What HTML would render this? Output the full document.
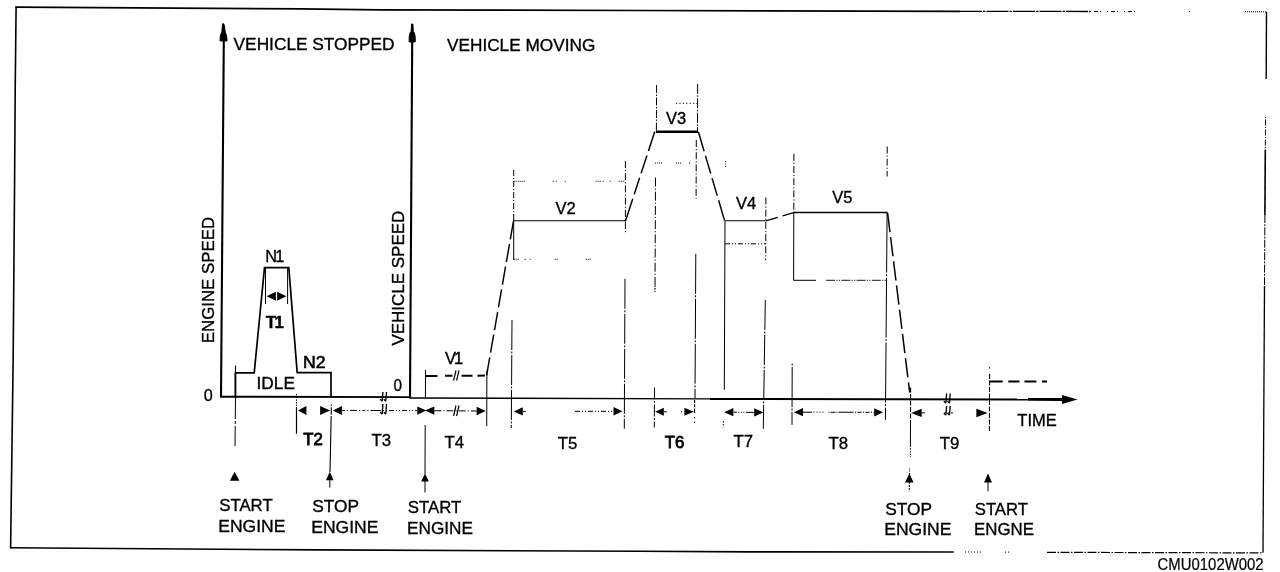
<!DOCTYPE html>
<html><head><meta charset="utf-8"><title>Drive cycle</title>
<style>
html,body{margin:0;padding:0;background:#fff;}
body{width:1280px;height:572px;overflow:hidden;}
svg{display:block;will-change:transform;}
svg text{font-family:"Liberation Sans",sans-serif;fill:#000;stroke:#000;stroke-width:0.35px;}
svg line,svg polyline,svg path{stroke:#000;}
</style></head><body>
<svg width="1280" height="572" viewBox="0 0 1280 572">
<rect width="1280" height="572" fill="#fff"/>
<polyline points="15.4,7.1 300,8.9 380,9.8 640,10.5 960,11.3" fill="none" stroke-width="1.7"/>
<line x1="960" y1="11.3" x2="1090" y2="11.5" stroke-width="1.3" stroke-dasharray="22 1 2.5 1"/>
<line x1="1090" y1="11.5" x2="1135" y2="11.6" stroke-width="1" stroke-dasharray="1 3 4 2 1 6"/>
<line x1="1189" y1="11.6" x2="1190" y2="11.6" stroke-width="1"/>
<line x1="1245" y1="11.7" x2="1266.5" y2="11.8" stroke-width="1" stroke-dasharray="1 1"/>
<polyline points="16.1,6.4 15.2,90 14.6,180 13.2,355 12.6,400 10.6,548.4" fill="none" stroke-width="1.6"/>
<polyline points="10.5,547.7 320,549.9 640,551.3 750,551.9 953.7,552" fill="none" stroke-width="1.6"/>
<line x1="965" y1="552" x2="982" y2="552.1" stroke-width="1" stroke-dasharray="1 2"/>
<line x1="1005" y1="552.1" x2="1009" y2="552.1" stroke-width="1" stroke-dasharray="1 2"/>
<line x1="1047" y1="552.3" x2="1263" y2="552.9" stroke-width="1.2" stroke-dasharray="9 1.5 1.5 1.5"/>
<line x1="1266.5" y1="11.8" x2="1266.2" y2="79" stroke-width="1.4"/>
<line x1="1265.6" y1="117" x2="1265.3" y2="150" stroke-width="1" stroke-dasharray="1 1.5 6 1.5"/>
<line x1="1265.3" y1="150" x2="1264.9" y2="215" stroke-width="1.6"/>
<line x1="1264.9" y1="215" x2="1264.5" y2="286" stroke-width="1" stroke-dasharray="8 1.2 2 1.2"/>
<line x1="1264.5" y1="286" x2="1263" y2="552.8" stroke-width="1.3"/>
<line x1="223.8" y1="40" x2="221" y2="397" stroke-width="2.1"/>
<path d="M222.6,23.8 L223.8,23.8 L224.6,27 L225.2,32 L226.6,36 L227.1,40.9 L220,40.9 L220.3,36 L221.8,32 L222.3,27 Z" fill="#000" stroke="none"/>
<line x1="412.2" y1="41" x2="410" y2="398.5" stroke-width="2.1"/>
<path d="M411.6,24 L412.9,24 L413.3,31.5 L414.4,33 L415.2,36.5 L415.2,41.9 L409.2,41.9 L409.2,36.5 L410.2,32.5 L411.1,31.5 Z" fill="#000" stroke="none"/>
<line x1="220" y1="396.7" x2="410" y2="397.1" stroke-width="1.9"/>
<line x1="410" y1="398" x2="710" y2="398.8" stroke-width="1.3"/>
<line x1="710" y1="398.9" x2="1028" y2="399.4" stroke-width="2"/>
<line x1="1028" y1="399.4" x2="1063" y2="399.5" stroke-width="2.8"/>
<polygon points="1062,395 1077.5,399.5 1062,404" fill="#000" stroke="none"/>
<polyline points="235.4,372.9 254.2,372.9 264.5,267.7 288.8,267.7 297.2,372.6 331,372.6 331,397" fill="none" stroke-width="1.7"/>
<line x1="235.5" y1="365.5" x2="235.5" y2="373" stroke-width="1.1"/>
<line x1="235.4" y1="372.5" x2="235.4" y2="397" stroke-width="1.9"/>
<line x1="235.5" y1="397" x2="235" y2="446" stroke-width="1" stroke-dasharray="22 2 3 2"/>
<line x1="265.5" y1="268" x2="265.5" y2="304" stroke-width="1"/>
<line x1="287.6" y1="268" x2="287.6" y2="304" stroke-width="1"/>
<polygon points="266.6,296.2 275.90000000000003,291.7 275.90000000000003,300.7" fill="#000" stroke="none"/>
<polygon points="286.4,296.2 277.09999999999997,291.7 277.09999999999997,300.7" fill="#000" stroke="none"/>
<line x1="296.5" y1="394" x2="296.5" y2="406.5" stroke-width="1.1" stroke-dasharray="1.3 1.4"/>
<line x1="296.5" y1="407" x2="296.5" y2="433.8" stroke-width="1.2"/>
<polygon points="298,410.4 306.4,405.9 306.4,414.9" fill="#000" stroke="none"/>
<polygon points="330.1,410.4 320.1,405.9 320.1,414.9" fill="#000" stroke="none"/>
<line x1="331.4" y1="404.6" x2="330" y2="472" stroke-width="1.1" stroke-dasharray="1.2 1.4 7.5 1.2 60 1.5 1.5 1.5"/>
<polygon points="329.8,471.8 326.0,480.2 333.6,480.2" fill="#000" stroke="none"/>
<line x1="329.8" y1="480" x2="329.8" y2="487.5" stroke-width="1"/>
<polygon points="234.6,471.8 229.79999999999998,480.8 239.4,480.8" fill="#000" stroke="none"/>
<polygon points="332.9,410.4 341.9,405.9 341.9,414.9" fill="#000" stroke="none"/>
<line x1="341.9" y1="410.4" x2="376" y2="410.5" stroke-width="1" stroke-dasharray="3 2 1.2 2 7 2 1.2 2"/>
<line x1="376" y1="410.5" x2="417" y2="410.6" stroke-width="1" stroke-dasharray="5 2 1 2 1 2"/>
<polygon points="426.3,410.6 417.3,406.40000000000003 417.3,414.8" fill="#000" stroke="none"/>
<polygon points="424.9,410.6 434.29999999999995,406.40000000000003 434.29999999999995,414.8" fill="#000" stroke="none"/>
<line x1="434.29999999999995" y1="410.7" x2="476.5" y2="411" stroke-width="1" stroke-dasharray="7 2 1.2 2"/>
<polygon points="485.6,411 476.6,406.8 476.6,415.2" fill="#000" stroke="none"/>
<path d="M382.90000000000003,392 L382.3,400.0 Q381.8,402.0 380.3,399.0" fill="none" stroke-width="1.35"/>
<path d="M386.50000000000006,392 L385.90000000000003,400.0 Q385.40000000000003,402.0 383.90000000000003,399.0" fill="none" stroke-width="1.35"/>
<path d="M382.90000000000003,404 L382.3,413.0 Q381.8,415.0 380.3,412.0" fill="none" stroke-width="1.35"/>
<path d="M386.50000000000006,404 L385.90000000000003,413.0 Q385.40000000000003,415.0 383.90000000000003,412.0" fill="none" stroke-width="1.35"/>
<line x1="425.6" y1="370" x2="425.4" y2="398" stroke-width="1"/>
<line x1="425.2" y1="425" x2="425" y2="474" stroke-width="1"/>
<polygon points="425,473.5 421.2,481.5 428.8,481.5" fill="#000" stroke="none"/>
<line x1="425" y1="481" x2="425" y2="492.5" stroke-width="1"/>
<line x1="425.5" y1="376" x2="486.8" y2="375.6" stroke-width="2" stroke-dasharray="12 7.5 7.5 9 11 5 7.5 100"/>
<path d="M456,370.5 L453.6,380.5 M459,370.5 L456.6,380.5" fill="none" stroke-width="1.2"/>
<path d="M456,405.5 L453.6,416 M459,405.5 L456.6,416" fill="none" stroke-width="1.2"/>
<line x1="486.9" y1="371" x2="486.7" y2="426" stroke-width="1"/>
<line x1="486.6" y1="375.4" x2="513.5" y2="221" stroke-width="1.45" stroke-dasharray="18.3 4.7"/>
<line x1="513.7" y1="220.8" x2="625" y2="220.8" stroke-width="1.05"/>
<line x1="513.7" y1="170" x2="513.7" y2="220" stroke-width="1" stroke-dasharray="6 2 1 2"/>
<line x1="513.7" y1="220" x2="513.7" y2="260" stroke-width="1"/>
<line x1="513.7" y1="181.3" x2="625" y2="181.3" stroke-width="1" stroke-dasharray="1 1 1 1 1 1 1 1 1 1 1 28 1 2 1 8 1 30 1 1 1 1 1 2 1 6 1 8 1 1 1 1 1 1 1 1"/>
<line x1="513.7" y1="259.3" x2="596" y2="259.3" stroke-width="1" stroke-dasharray="1 1 1 1 1 6 1 4 1 24 1 1 1 28 1 1 1 1 1 100"/>
<line x1="625.4" y1="161" x2="625.4" y2="233.8" stroke-width="1" stroke-dasharray="7 2 1.2 2"/>
<line x1="625" y1="278.8" x2="624.3" y2="428.7" stroke-width="1" stroke-dasharray="30 1.5 2 1.5"/>
<line x1="512" y1="320" x2="511.3" y2="428" stroke-width="1" stroke-dasharray="30 1.5 2 1.5"/>
<polygon points="513.8,411.4 522.8,407.2 522.8,415.59999999999997" fill="#000" stroke="none"/>
<line x1="522.8" y1="411.4" x2="525.8" y2="411.4" stroke-width="1"/>
<line x1="575" y1="411.3" x2="613.5" y2="411.3" stroke-width="1" stroke-dasharray="5 2 1 2 1 2"/>
<polygon points="622.5,411.3 613.5,407.1 613.5,415.5" fill="#000" stroke="none"/>
<line x1="654.8" y1="131.6" x2="625.3" y2="221.4" stroke-width="1.45" stroke-dasharray="20.4 4.7 18.8 4.7 17.3 4.7 24"/>
<line x1="656" y1="131.8" x2="698" y2="131.8" stroke-width="2.4"/>
<line x1="656.6" y1="85" x2="656.4" y2="131" stroke-width="1" stroke-dasharray="8 1.5 1.5 1.5"/>
<line x1="697.6" y1="83.8" x2="697.5" y2="131" stroke-width="1" stroke-dasharray="10 1.5 1.5 1.5"/>
<line x1="676" y1="103.3" x2="697.5" y2="103.3" stroke-width="1" stroke-dasharray="1.2 2.2"/>
<line x1="655.5" y1="177.5" x2="655" y2="292" stroke-width="1" stroke-dasharray="9 2 1.2 2"/>
<line x1="654.5" y1="387.5" x2="654.3" y2="427.5" stroke-width="1" stroke-dasharray="12 1.5 2 1.5"/>
<line x1="655" y1="286" x2="655" y2="291" stroke-width="1" stroke-dasharray="1 1.5"/>
<line x1="696.3" y1="140" x2="696.1" y2="198.8" stroke-width="1" stroke-dasharray="7 2 1.2 2"/>
<line x1="695.8" y1="253.8" x2="695" y2="398" stroke-width="1" stroke-dasharray="40 1.5 2 1.5"/>
<line x1="694.6" y1="400" x2="694.5" y2="427.5" stroke-width="1.1" stroke-dasharray="3 1.3 3 1.3 4.5 4 1.5 3 1.5 20"/>
<line x1="655" y1="163" x2="692.5" y2="163" stroke-width="1" stroke-dasharray="1 1 1 1 1 1 1 14 1 1 1 1 1 8 1 100"/>
<line x1="725.6" y1="161" x2="725.6" y2="167.5" stroke-width="1" stroke-dasharray="1 1.5"/>
<polygon points="655.2,411.8 663.8000000000001,407.8 663.8000000000001,415.8" fill="#000" stroke="none"/>
<line x1="663.8000000000001" y1="411.8" x2="666.8000000000001" y2="411.8" stroke-width="1"/>
<line x1="681" y1="411.7" x2="682" y2="411.7" stroke-width="1"/>
<polygon points="693.8,411.7 684.4,407.7 684.4,415.7" fill="#000" stroke="none"/>
<line x1="698.4" y1="131.8" x2="724.6" y2="220.6" stroke-width="1.45" stroke-dasharray="20.2 4.6 18.7 4.6 18.7 4.6 24"/>
<line x1="725" y1="220.8" x2="765.8" y2="220.8" stroke-width="1.1"/>
<line x1="725" y1="221" x2="724.3" y2="389.8" stroke-width="1"/>
<line x1="723.4" y1="421" x2="723.3" y2="427.5" stroke-width="1" stroke-dasharray="1.5 1.5"/>
<line x1="765.9" y1="197.5" x2="765.7" y2="260" stroke-width="1" stroke-dasharray="7 2 1.2 2"/>
<line x1="765.3" y1="300" x2="763.3" y2="428.8" stroke-width="1" stroke-dasharray="30 1.5 2 1.5"/>
<line x1="725" y1="243.8" x2="765.8" y2="243.8" stroke-width="1" stroke-dasharray="5 2 1 2 1 2"/>
<polygon points="724.2,412.2 733.4000000000001,408.09999999999997 733.4000000000001,416.3" fill="#000" stroke="none"/>
<line x1="733.4000000000001" y1="412.2" x2="754.5" y2="412.4" stroke-width="1" stroke-dasharray="3.5 1.5 1 1.5 1 1.5 1 1.5 9"/>
<polygon points="763.4,412.4 754.1999999999999,408.29999999999995 754.1999999999999,416.5" fill="#000" stroke="none"/>
<line x1="765.8" y1="220.8" x2="793.8" y2="212.6" stroke-width="1.3" stroke-dasharray="12.5 5 30"/>
<line x1="793.8" y1="212.6" x2="887.5" y2="212.6" stroke-width="1.5"/>
<line x1="793.9" y1="153.8" x2="793.8" y2="212" stroke-width="1" stroke-dasharray="7 2 1.2 2"/>
<line x1="793.8" y1="212.6" x2="793.6" y2="280.3" stroke-width="1"/>
<line x1="793.6" y1="280.3" x2="816" y2="280.3" stroke-width="1"/>
<line x1="826" y1="280.3" x2="887" y2="280.3" stroke-width="0.9" stroke-dasharray="9 1.3 1.2 1.3 1.2 1.3"/>
<line x1="887.2" y1="146.5" x2="887.1" y2="176.5" stroke-width="1" stroke-dasharray="7 2 1.2 2"/>
<line x1="887.1" y1="212.6" x2="885.4" y2="419.8" stroke-width="1" stroke-dasharray="60 1.5 2 1.5"/>
<line x1="792.2" y1="363.5" x2="792" y2="424.8" stroke-width="1" stroke-dasharray="2 1.5 40 1.5"/>
<polygon points="794,412.2 803,408.09999999999997 803,416.3" fill="#000" stroke="none"/>
<line x1="803" y1="412.2" x2="874.5" y2="412.3" stroke-width="1" stroke-dasharray="9 1.5 1 2 1 2 1 2 1 5 1 1 5 1 1 1 15 1.5 1 1.5 4 1.5 1 1.5 4 1.5 1 1.5 4"/>
<polygon points="883,412.3 874.2,408.2 874.2,416.40000000000003" fill="#000" stroke="none"/>
<line x1="887.6" y1="212.8" x2="909.7" y2="392.5" stroke-width="1.5" stroke-dasharray="19.4 5"/>
<line x1="910.6" y1="387.4" x2="910.5" y2="421" stroke-width="1.1" stroke-dasharray="5 1.5"/>
<line x1="910.5" y1="421" x2="910.4" y2="457" stroke-width="1" stroke-dasharray="26 1.2 1.5 1.2 1.5 1.2 1.5 1.2"/>
<line x1="909.6" y1="468.5" x2="909.5" y2="474" stroke-width="1" stroke-dasharray="1 1.2"/>
<polygon points="909.3,473.5 905.0,482.5 913.5999999999999,482.5" fill="#000" stroke="none"/>
<line x1="909.3" y1="482" x2="909.3" y2="491.3" stroke-width="1" stroke-dasharray="2 1"/>
<polygon points="911.2,412.9 921.7,408.7 921.7,417.09999999999997" fill="#000" stroke="none"/>
<line x1="921.7" y1="412.9" x2="924.7" y2="412.9" stroke-width="1"/>
<polygon points="987.6,413 976.4,408.8 976.4,417.2" fill="#000" stroke="none"/>
<path d="M946.6,393.5 L946,402.0 Q945.5,404.0 944,401.0" fill="none" stroke-width="1.35"/>
<path d="M950.2,393.5 L949.6,402.0 Q949.1,404.0 947.6,401.0" fill="none" stroke-width="1.35"/>
<path d="M946.6,406 L946,414.0 Q945.5,416.0 944,413.0" fill="none" stroke-width="1.35"/>
<path d="M950.2,406 L949.6,414.0 Q949.1,416.0 947.6,413.0" fill="none" stroke-width="1.35"/>
<line x1="944" y1="413" x2="954" y2="413" stroke-width="1" stroke-dasharray="2 1.5"/>
<line x1="989.6" y1="367.3" x2="989.4" y2="431" stroke-width="1.1" stroke-dasharray="1.2 5.5 5 1.5 5 1.5 5 1.5 5 1.5 5 1.5 5 1.5 5 1.5 5 1.5 5 1.5 1.5 1.5 1.5 1.5"/>
<line x1="989.5" y1="381.4" x2="1047.3" y2="381.6" stroke-width="2" stroke-dasharray="13.2 5.6 11.2 5 11.9 5.6 5"/>
<polygon points="988,473.5 984.0,482.5 992.0,482.5" fill="#000" stroke="none"/>
<line x1="988" y1="482" x2="988" y2="491.3" stroke-width="1"/>
<text x="233.6" y="50" font-size="17" font-weight="normal" text-anchor="start" textLength="161" lengthAdjust="spacingAndGlyphs">VEHICLE STOPPED</text>
<text x="447" y="51.2" font-size="17" font-weight="normal" text-anchor="start" textLength="148.3" lengthAdjust="spacingAndGlyphs">VEHICLE MOVING</text>
<text x="214.2" y="343.2" font-size="16.8" font-weight="normal" text-anchor="start" textLength="126.3" lengthAdjust="spacingAndGlyphs" transform="rotate(-90 214.2 343.2)">ENGINE SPEED</text>
<text x="404.3" y="345.6" font-size="16.8" font-weight="normal" text-anchor="start" textLength="134.9" lengthAdjust="spacingAndGlyphs" transform="rotate(-90 404.3 345.6)">VEHICLE SPEED</text>
<text x="265.2" y="262" font-size="16.3" font-weight="normal" text-anchor="start">N<tspan dx="-1.8">1</tspan></text>
<text x="303.1" y="368.2" font-size="16.5" font-weight="normal" text-anchor="start" textLength="22.6" lengthAdjust="spacingAndGlyphs" style="stroke-width:0.55px">N2</text>
<text x="265.7" y="327.9" font-size="17" font-weight="bold" text-anchor="start">T<tspan dx="-1.6">1</tspan></text>
<text x="256.5" y="389.4" font-size="16.5" font-weight="normal" text-anchor="start" textLength="38.4" lengthAdjust="spacingAndGlyphs">IDLE</text>
<text x="203.8" y="401.3" font-size="17" font-weight="normal" text-anchor="start" textLength="9" lengthAdjust="spacingAndGlyphs">0</text>
<text x="393.5" y="390.9" font-size="17" font-weight="normal" text-anchor="start" textLength="8.5" lengthAdjust="spacingAndGlyphs">0</text>
<text x="303.3" y="444.6" font-size="16.8" font-weight="normal" text-anchor="start" style="stroke-width:0.8px">T2</text>
<text x="371.6" y="446.3" font-size="16.8" font-weight="normal" text-anchor="start">T3</text>
<text x="444.4" y="447.6" font-size="16.8" font-weight="normal" text-anchor="start">T4</text>
<text x="557.8" y="448.8" font-size="16.8" font-weight="normal" text-anchor="start">T5</text>
<text x="664.8" y="447.5" font-size="16.8" font-weight="normal" text-anchor="start" style="stroke-width:0.8px">T6</text>
<text x="733.6" y="447" font-size="16.8" font-weight="normal" text-anchor="start">T7</text>
<text x="828.6" y="448.8" font-size="16.8" font-weight="normal" text-anchor="start">T8</text>
<text x="939.8" y="448.8" font-size="16.8" font-weight="normal" text-anchor="start">T9</text>
<text x="444.9" y="363.8" font-size="16.5" font-weight="normal" text-anchor="start">V<tspan dx="-2">1</tspan></text>
<text x="555.4" y="213.8" font-size="16.5" font-weight="normal" text-anchor="start">V2</text>
<text x="666" y="124.3" font-size="16.5" font-weight="normal" text-anchor="start">V3</text>
<text x="736" y="208.8" font-size="16.5" font-weight="normal" text-anchor="start">V4</text>
<text x="832.2" y="203" font-size="16.5" font-weight="normal" text-anchor="start">V5</text>
<text x="1017.3" y="425.6" font-size="16.5" font-weight="normal" text-anchor="start">TIME</text>
<text x="219.2" y="511.3" font-size="17" font-weight="normal" text-anchor="start" textLength="53.5" lengthAdjust="spacingAndGlyphs">START</text>
<text x="218.2" y="532.2" font-size="17" font-weight="normal" text-anchor="start" textLength="67.2" lengthAdjust="spacingAndGlyphs">ENGINE</text>
<text x="312.2" y="511.8" font-size="17" font-weight="normal" text-anchor="start" textLength="46.8" lengthAdjust="spacingAndGlyphs">STOP</text>
<text x="311.2" y="533" font-size="17" font-weight="normal" text-anchor="start" textLength="67.2" lengthAdjust="spacingAndGlyphs">ENGINE</text>
<text x="407.8" y="512.6" font-size="17" font-weight="normal" text-anchor="start" textLength="53.5" lengthAdjust="spacingAndGlyphs">START</text>
<text x="407" y="533.8" font-size="17" font-weight="normal" text-anchor="start" textLength="66" lengthAdjust="spacingAndGlyphs">ENGINE</text>
<text x="885.2" y="514.5" font-size="17" font-weight="normal" text-anchor="start" textLength="46.8" lengthAdjust="spacingAndGlyphs">STOP</text>
<text x="884.2" y="535.2" font-size="17" font-weight="normal" text-anchor="start" textLength="67.2" lengthAdjust="spacingAndGlyphs">ENGINE</text>
<text x="974.8" y="514.5" font-size="17" font-weight="normal" text-anchor="start" textLength="53" lengthAdjust="spacingAndGlyphs">START</text>
<text x="974" y="535.2" font-size="17" font-weight="normal" text-anchor="start" textLength="60" lengthAdjust="spacingAndGlyphs">ENGNE</text>
<text x="1157.6" y="570.1" font-size="16.4" font-weight="normal" text-anchor="start" textLength="106" lengthAdjust="spacingAndGlyphs" style="stroke-width:0.2px">CMU0102W002</text>
</svg>
</body></html>
